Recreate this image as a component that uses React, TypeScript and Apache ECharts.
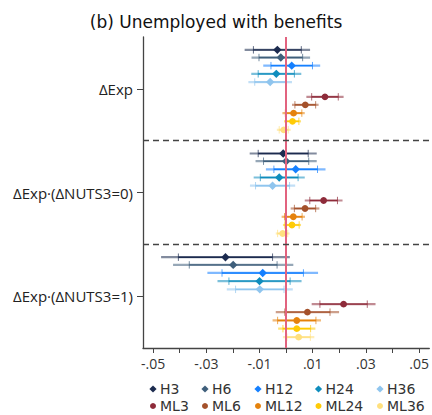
import React, { useEffect, useRef } from "react";
import * as echarts from "echarts";

// ---------- data ----------
const groupLabels = ["ΔExp", "ΔExp·(ΔNUTS3=0)", "ΔExp·(ΔNUTS3=1)"];
const seriesNames = ["H3", "H6", "H12", "H24", "H36", "ML3", "ML6", "ML12", "ML24", "ML36"];
const seriesColors = ["#1c2b4f", "#3f5f7b", "#1580ff", "#0f8dbd", "#8fc5ee", "#8e2b3a", "#a4512b", "#e5820c", "#ffcb05", "#ffe07e"];
const seriesSymbols = ["diamond", "diamond", "diamond", "diamond", "diamond", "circle", "circle", "circle", "circle", "circle"];

// point estimates per group (order = seriesNames)
const estExp = [-0.0033, -0.0020, 0.0021, -0.0037, -0.0060, 0.0146, 0.0072, 0.0028, 0.0024, -0.0009];
const estNuts0 = [-0.0011, 0.0000, 0.0036, -0.0026, -0.0051, 0.0141, 0.0071, 0.0027, 0.0022, -0.0013];
const estNuts1 = [-0.0228, -0.0199, -0.0088, -0.0100, -0.0099, 0.0216, 0.0080, 0.0040, 0.0040, 0.0047];

// inner CI half-widths (capped)
const capExp = [0.0090, 0.0082, 0.0078, 0.0068, 0.0058, 0.0050, 0.0039, 0.0031, 0.0024, 0.0017];
const capNuts0 = [0.0094, 0.0085, 0.0082, 0.0071, 0.0064, 0.0052, 0.0040, 0.0033, 0.0027, 0.0019];
const capNuts1 = [0.0177, 0.0165, 0.0153, 0.0115, 0.0091, 0.0089, 0.0085, 0.0072, 0.0052, 0.0044];

// outer CI half-widths
const lineExp = [0.0123, 0.0110, 0.0107, 0.0094, 0.0082, 0.0070, 0.0050, 0.0042, 0.0032, 0.0026];
const lineNuts0 = [0.0126, 0.0115, 0.0112, 0.0096, 0.0085, 0.0071, 0.0054, 0.0044, 0.0034, 0.0026];
const lineNuts1 = [0.0242, 0.0226, 0.0208, 0.0158, 0.0124, 0.0120, 0.0119, 0.0091, 0.0070, 0.0059];

const xTickValues = [-0.05, -0.04, -0.03, -0.02, -0.01, 0, 0.01, 0.02, 0.03, 0.04, 0.05];
const xLabelValues = [-0.05, -0.03, -0.01, 0.01, 0.03, 0.05];

// ---------- layout ----------
const W = 432;
const H = 415;
const GROUP_PX = 103.7;
const slotPx = [-39, -31.3, -23.2, -15, -6.8, 8, 16, 24.3, 32.5, 41];
const legendColX = [153, 205, 258, 318.5, 380];
const legendRowY = [389, 406];
const FONT = "'Open Sans', 'DejaVu Sans', sans-serif";
const TITLE_FONT = "'DejaVu Sans', sans-serif";
const LEGEND_FONT = "'DejaVu Sans', sans-serif";

const estByGroup = [estExp, estNuts0, estNuts1];
const capByGroup = [capExp, capNuts0, capNuts1];
const lineByGroup = [lineExp, lineNuts0, lineNuts1];

function fmt(v: number) {
  const s = Math.abs(v).toFixed(2).replace(/^0/, "");
  return (v < 0 ? "-" : "") + s;
}

export default function App() {
  const ref = useRef<HTMLDivElement>(null);
  useEffect(() => {
    if (!ref.current) return;
    const chart = echarts.init(ref.current, null, { renderer: "svg" });

    const customSeries = seriesNames.map((name, s) => {
      const color = seriesColors[s];
      const isDiamond = seriesSymbols[s] === "diamond";
      const data = [0, 1, 2].map((g) => [
        estByGroup[g][s],
        g + 0.5 + slotPx[s] / GROUP_PX,
        capByGroup[g][s],
        lineByGroup[g][s],
      ]);
      return {
        type: "custom",
        name,
        z: 3,
        silent: true,
        itemStyle: { color },
        encode: { x: 0, y: 1 },
        data,
        renderItem: (params: any, api: any) => {
          const x = api.value(0);
          const y = api.value(1);
          const cap = api.value(2);
          const lh = api.value(3);
          const p = api.coord([x, y]);
          const lo = api.coord([x - lh, y])[0];
          const hi = api.coord([x + lh, y])[0];
          const cLo = api.coord([x - cap, y])[0];
          const cHi = api.coord([x + cap, y])[0];
          const py = p[1];
          const children: any[] = [
            {
              type: "line",
              shape: { x1: lo, y1: py, x2: hi, y2: py },
              style: { stroke: color, lineWidth: 2.2, opacity: 0.55 },
            },
            {
              type: "line",
              shape: { x1: cLo, y1: py, x2: cHi, y2: py },
              style: { stroke: color, lineWidth: 1.4 },
            },
            {
              type: "line",
              shape: { x1: cLo, y1: py - 3.7, x2: cLo, y2: py + 3.7 },
              style: { stroke: color, lineWidth: 1, opacity: 0.7 },
            },
            {
              type: "line",
              shape: { x1: cHi, y1: py - 3.7, x2: cHi, y2: py + 3.7 },
              style: { stroke: color, lineWidth: 1, opacity: 0.7 },
            },
          ];
          if (isDiamond) {
            const r = 4.2;
            children.push({
              type: "polygon",
              shape: { points: [[p[0], py - r], [p[0] + r, py], [p[0], py + r], [p[0] - r, py]] },
              style: { fill: color },
            });
          } else {
            children.push({
              type: "circle",
              shape: { cx: p[0], cy: py, r: 3.4 },
              style: { fill: color },
            });
          }
          return { type: "group", children };
        },
      };
    });

    const refSeries = {
      type: "scatter",
      name: "_ref",
      data: [],
      z: 1,
      silent: true,
      markLine: {
        silent: true,
        symbol: ["none", "none"],
        label: { show: false },
        animation: false,
        data: [
          { xAxis: 0, lineStyle: { color: "#e2637f", width: 2, type: "solid" } },
          { yAxis: 1, lineStyle: { color: "#444", width: 1.3, type: [6, 4] } },
          { yAxis: 2, lineStyle: { color: "#444", width: 1.3, type: [6, 4] } },
        ],
      },
    };

    const legendGraphics: any[] = [];
    seriesNames.forEach((name, s) => {
      const col = s % 5;
      const row = Math.floor(s / 5);
      const cx = legendColX[col];
      const cy = legendRowY[row];
      if (seriesSymbols[s] === "diamond") {
        const r = 3.6;
        legendGraphics.push({
          type: "polygon",
          shape: { points: [[cx, cy - r], [cx + r, cy], [cx, cy + r], [cx - r, cy]] },
          style: { fill: seriesColors[s] },
        });
      } else {
        legendGraphics.push({
          type: "circle",
          shape: { cx, cy, r: 3 },
          style: { fill: seriesColors[s] },
        });
      }
      legendGraphics.push({
        type: "text",
        x: cx + 7,
        y: cy,
        style: {
          text: name,
          fill: "#333",
          font: `14px ${LEGEND_FONT}`,
          lineHeight: 14,
          verticalAlign: "middle",
        },
      });
    });

    chart.setOption({
      animation: false,
      backgroundColor: "#fff",
      title: {
        text: "(b) Unemployed with benefits",
        left: "center",
        top: 8,
        textStyle: { fontSize: 17, fontWeight: "normal", color: "#111", fontFamily: TITLE_FONT },
      },
      grid: { left: 143, right: 2, top: 37, bottom: 67, containLabel: false },
      xAxis: {
        type: "value",
        position: "bottom",
        min: -0.0538,
        max: 0.0538,
        axisLine: { show: true, onZero: false, lineStyle: { color: "#444", width: 1.3 } },
        axisTick: { show: true, length: 5, customValues: xTickValues, lineStyle: { color: "#444" } },
        axisLabel: {
          customValues: xLabelValues,
          formatter: (v: number) => fmt(v),
          fontSize: 14,
          color: "#333",
          fontFamily: FONT,
          margin: 8,
        },
        splitLine: { show: false },
      },
      yAxis: {
        type: "value",
        min: 0,
        max: 3,
        inverse: true,
        axisLine: { show: true, onZero: false, lineStyle: { color: "#444", width: 1.3 } },
        axisTick: { show: true, length: 6, customValues: [0.5, 1.5, 2.5], lineStyle: { color: "#444" } },
        axisLabel: {
          customValues: [0.5, 1.5, 2.5],
          formatter: (v: number) => groupLabels[Math.floor(v)] ?? "",
          fontSize: 15,
          color: "#222",
          fontFamily: FONT,
          margin: 10,
        },
        splitLine: { show: false },
      },
      graphic: legendGraphics,
      series: [refSeries, ...customSeries],
    });

    return () => chart.dispose();
  }, []);

  return (
    <div
      ref={ref}
      style={{ position: "fixed", left: 0, top: 0, width: W, height: H }}
    />
  );
}
